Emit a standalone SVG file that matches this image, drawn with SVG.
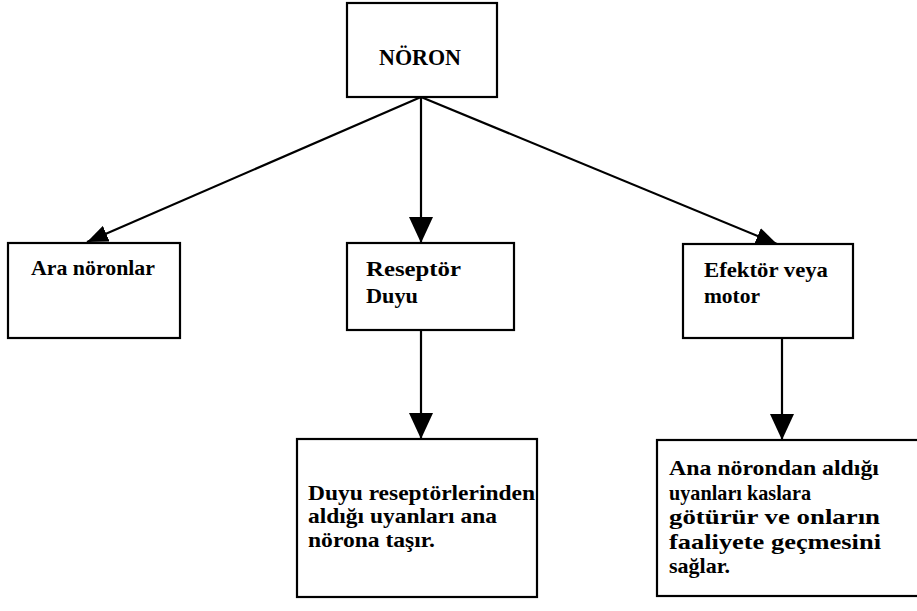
<svg xmlns="http://www.w3.org/2000/svg" width="917" height="611" viewBox="0 0 917 611">
  <style>
    .box { fill: #ffffff; stroke: #000000; stroke-width: 2.2; }
    .lbl { font-family: "Liberation Serif", "DejaVu Serif", serif; font-size: 22px; font-weight: bold; fill: #000000; }
    .title { font-size: 24px; }
    .wire { stroke: #000000; stroke-width: 2.2; fill: none; }
  </style>
  <defs>
    <marker id="head" markerUnits="userSpaceOnUse" markerWidth="26" markerHeight="24" refX="26" refY="12" orient="auto" viewBox="0 0 26 24">
      <path d="M0,0 L26,12 L0,24 z" fill="#000000"/>
    </marker>
    <marker id="head-sm" markerUnits="userSpaceOnUse" markerWidth="21" markerHeight="17" refX="21" refY="8.5" orient="auto" viewBox="0 0 21 17">
      <path d="M0,0 L21,8.5 L0,17 z" fill="#000000"/>
    </marker>
  </defs>

  <rect width="917" height="611" fill="#ffffff"/>

  <g id="node-noron">
    <rect class="box" x="347" y="3" width="150" height="94"/>
    <text class="lbl title" x="379" y="65" textLength="82" lengthAdjust="spacingAndGlyphs">NÖRON</text>
  </g>

  <g id="node-ara">
    <rect class="box" x="8" y="243" width="172" height="95"/>
    <text class="lbl" x="31" y="275" textLength="124" lengthAdjust="spacingAndGlyphs">Ara nöronlar</text>
  </g>

  <g id="node-reseptor">
    <rect class="box" x="347" y="243" width="167" height="87"/>
    <text class="lbl" x="366" y="276" textLength="95" lengthAdjust="spacingAndGlyphs">Reseptör</text>
    <text class="lbl" x="366" y="303" textLength="52" lengthAdjust="spacingAndGlyphs">Duyu</text>
  </g>

  <g id="node-efektor">
    <rect class="box" x="683" y="244" width="170" height="94"/>
    <text class="lbl" x="704" y="277" textLength="124" lengthAdjust="spacingAndGlyphs">Efektör veya</text>
    <text class="lbl" x="704" y="303" textLength="56" lengthAdjust="spacingAndGlyphs">motor</text>
  </g>

  <g id="node-duyu-aciklama">
    <rect class="box" x="297" y="439" width="240" height="158"/>
    <text class="lbl" x="308" y="500" textLength="227" lengthAdjust="spacingAndGlyphs">Duyu reseptörlerinden</text>
    <text class="lbl" x="308" y="523" textLength="189" lengthAdjust="spacingAndGlyphs">aldığı uyanları ana</text>
    <text class="lbl" x="308" y="547" textLength="127" lengthAdjust="spacingAndGlyphs">nörona taşır.</text>
  </g>

  <g id="node-efektor-aciklama">
    <rect class="box" x="657" y="440" width="270" height="156"/>
    <text class="lbl" x="669" y="475" textLength="210" lengthAdjust="spacingAndGlyphs">Ana nörondan aldığı</text>
    <text class="lbl" x="669" y="500" textLength="142" lengthAdjust="spacingAndGlyphs">uyanları kaslara</text>
    <text class="lbl" x="669" y="524" textLength="211" lengthAdjust="spacingAndGlyphs">götürür ve onların</text>
    <text class="lbl" x="669" y="549" textLength="212" lengthAdjust="spacingAndGlyphs">faaliyete geçmesini</text>
    <text class="lbl" x="669" y="573" textLength="61" lengthAdjust="spacingAndGlyphs">sağlar.</text>
  </g>

  <g id="connectors">
    <line class="wire" x1="421" y1="97" x2="87" y2="242" marker-end="url(#head-sm)"/>
    <line class="wire" x1="421" y1="97" x2="421" y2="243" marker-end="url(#head)"/>
    <line class="wire" x1="421" y1="97" x2="777" y2="244" marker-end="url(#head-sm)"/>
    <line class="wire" x1="421" y1="330" x2="421" y2="439" marker-end="url(#head)"/>
    <line class="wire" x1="782" y1="338" x2="782" y2="440" marker-end="url(#head)"/>
  </g>
</svg>
